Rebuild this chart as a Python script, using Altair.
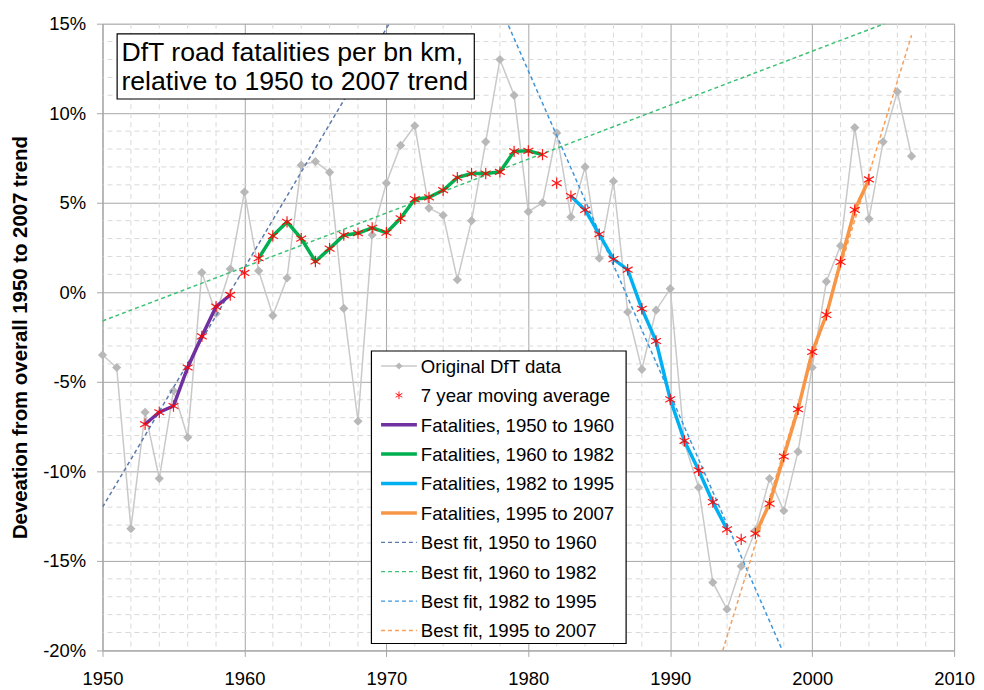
import altair as alt
import pandas as pd

# ---------------- data ----------------
years = list(range(1950, 2008))
original = [-3.5, -4.2, -13.2, -6.7, -10.4, -5.5, -8.1, 1.1, -1.2, 1.3,
            5.6, 1.2, -1.3, 0.8, 7.1, 7.3, 6.7, -0.9, -7.2, 3.2,
            6.1, 8.2, 9.3, 4.7, 4.3, 0.7, 4.0, 8.4, 13.0, 11.0,
            4.5, 5.0, 8.9, 4.2, 7.0, 1.9, 6.2, -1.1, -4.3, -1.0,
            0.2, -8.4, -10.9, -16.2, -17.7, -15.3, -13.3, -10.4, -12.2, -8.9,
            -4.2, 0.6, 2.6, 9.2, 4.1, 8.4, 11.2, 7.6]

ma_years = list(range(1953, 2005))
moving_avg = [-7.37, -6.7, -6.35, -4.2, -2.46, -0.8, -0.15,
              1.08, 1.9, 3.15, 3.93, 3.0, 1.72, 2.44, 3.19, 3.3, 3.6,
              3.33, 4.13, 5.2, 5.3, 5.7, 6.4, 6.63, 6.63, 6.72, 7.87,
              7.9, 7.69, 6.1, 5.37, 4.6, 3.24, 1.85, 1.26, -0.92, -2.72,
              -5.98, -8.3, -9.94, -11.72, -13.24, -13.8, -13.48, -11.8, -9.17, -6.53,
              -3.33, -1.26, 1.7, 4.6, 6.3]

segment_names = ["Fatalities, 1950 to 1960", "Fatalities, 1960 to 1982",
                 "Fatalities, 1982 to 1995", "Fatalities, 1995 to 2007"]
segment_first = [1953, 1961, 1983, 1996]
segment_last = [1959, 1981, 1994, 2004]
segment_colors = ["#7030a0", "#00b050", "#00b0f0", "#f79646"]

fit_names = ["Best fit, 1950 to 1960", "Best fit, 1960 to 1982",
             "Best fit, 1982 to 1995", "Best fit, 1995 to 2007"]
fit_x_start = [1950.0, 1950.0, 1978.6, 1993.7]
fit_y_start = [-12.0, -1.6, 14.9, -20.0]
fit_x_end = [1970.2, 2005.1, 1997.9, 2007.0]
fit_y_end = [15.0, 15.0, -20.0, 14.35]
fit_colors = ["#5b79ab", "#3cc274", "#3d95dc", "#f89e58"]

major_x_ticks = list(range(1950, 2011, 10))
minor_x_ticks = [y for y in range(1952, 2010, 2) if y % 10 != 0]
major_y_ticks = list(range(-20, 16, 5))
minor_y_ticks = [v for v in range(-19, 15) if v % 5 != 0]

title_lines = ["DfT road fatalities per bn km,", "relative to 1950 to 2007 trend"]
y_title = "Deveation from overall 1950 to 2007 trend"
legend_labels = ["Original DfT data", "7 year moving average"] + segment_names + fit_names

# ---------------- tables ----------------
df_orig = pd.DataFrame({"year": years, "value": original})
df_ma = pd.DataFrame({"year": ma_years, "value": moving_avg})
seg_rows = []
for name, a, b in zip(segment_names, segment_first, segment_last):
    for yr, v in zip(ma_years, moving_avg):
        if a <= yr <= b:
            seg_rows.append({"segment": name, "year": yr, "value": v})
df_seg = pd.DataFrame(seg_rows)
fit_rows = []
for name, x0, y0, x1, y1 in zip(fit_names, fit_x_start, fit_y_start, fit_x_end, fit_y_end):
    fit_rows.append({"fit": name, "year": x0, "value": y0})
    fit_rows.append({"fit": name, "year": x1, "value": y1})
df_fit = pd.DataFrame(fit_rows)
df_mx = pd.DataFrame({"year": minor_x_ticks})
df_my = pd.DataFrame({"value": minor_y_ticks})

FONT = "Liberation Sans"
GRID = "#a6a6a6"
MINOR = "#d9d9d9"

xscale = alt.Scale(domain=[1950, 2010], nice=False, zero=False)
yscale = alt.Scale(domain=[-20, 15], nice=False, zero=False)
x_axis = alt.Axis(values=major_x_ticks, format="d", grid=True, gridColor=GRID, gridWidth=1,
                  domainColor=GRID, tickColor=GRID, tickSize=6, labelFontSize=18.5,
                  labelFont=FONT, labelColor="#000000", labelPadding=13, labelFlush=False)
y_axis = alt.Axis(values=major_y_ticks, labelExpr="datum.value + '%'", grid=True, gridColor=GRID,
                  gridWidth=1, domainColor=GRID, tickColor=GRID, tickSize=6, labelFontSize=18.5,
                  labelFont=FONT, labelColor="#000000", labelPadding=11,
                  titleFont=FONT, titleFontSize=20.5, titleFontWeight="bold", titleColor="#000000",
                  titleX=-82, titleY=315, titleAngle=270, titleAlign="center", titleBaseline="middle")


def X(field="year"):
    return alt.X(f"{field}:Q", scale=xscale, axis=x_axis, title=None)


def Y(field="value"):
    return alt.Y(f"{field}:Q", scale=yscale, axis=y_axis, title=y_title)


minor_vx = alt.Chart(df_mx).mark_rule(color=MINOR, strokeDash=[5, 4], strokeWidth=1).encode(x=X())
minor_hy = alt.Chart(df_my).mark_rule(color=MINOR, strokeDash=[5, 4], strokeWidth=1).encode(y=Y())

orig_line = alt.Chart(df_orig).mark_line(color="#c9c9c9", strokeWidth=1.5).encode(x=X(), y=Y())
orig_pts = alt.Chart(df_orig).mark_point(shape="diamond", filled=True, color="#b8b8b8", size=85,
                                         opacity=1).encode(x=X(), y=Y())

fit_lines = alt.Chart(df_fit).mark_line(strokeDash=[4, 3], strokeWidth=1.5, clip=True).encode(
    x=X(), y=Y(),
    color=alt.Color("fit:N", scale=alt.Scale(domain=fit_names, range=fit_colors), legend=None))

seg_lines = alt.Chart(df_seg).mark_line(strokeWidth=3.5).encode(
    x=X(), y=Y(),
    color=alt.Color("segment:N", scale=alt.Scale(domain=segment_names, range=segment_colors), legend=None))

STAR = "M0,-1L0,1M-0.87,-0.5L0.87,0.5M-0.87,0.5L0.87,-0.5"
stars = alt.Chart(df_ma).mark_point(shape=STAR, filled=False, color="#ff0000", size=130,
                                    strokeWidth=1.2, opacity=0.9).encode(x=X(), y=Y())

one = pd.DataFrame({"a": [0]})
title_box = alt.Chart(one).mark_rect(fill="white", stroke="black", strokeWidth=1.2).encode(
    x=alt.value(14.7), x2=alt.value(373.7), y=alt.value(10.3), y2=alt.value(75.7))
title_text = alt.Chart(one).mark_text(align="left", baseline="alphabetic", font=FONT, fontSize=26.8,
                                      lineHeight=29, color="black").encode(
    x=alt.value(19), y=alt.value(37.5), text=alt.value(title_lines))

legend_box = alt.Chart(one).mark_rect(fill="white", stroke="black", strokeWidth=1.2).encode(
    x=alt.value(270.3), x2=alt.value(526.3), y=alt.value(329), y2=alt.value(623))

legend_layers = []
row0 = 344.0
step = 29.55
sx0, sx1, sxc, tx = 280, 316, 298, 320
for i, lab in enumerate(legend_labels):
    yy = row0 + i * step
    if i == 0:
        legend_layers.append(alt.Chart(one).mark_rule(color="#c9c9c9", strokeWidth=1.5).encode(
            x=alt.value(sx0), x2=alt.value(sx1), y=alt.value(yy)))
        legend_layers.append(alt.Chart(one).mark_point(shape="diamond", filled=True, color="#b8b8b8",
                                                       size=50, opacity=1).encode(
            x=alt.value(sxc), y=alt.value(yy)))
    elif i == 1:
        legend_layers.append(alt.Chart(one).mark_point(shape=STAR, filled=False, color="#ff0000",
                                                       size=60, strokeWidth=1, opacity=0.9).encode(
            x=alt.value(sxc), y=alt.value(yy)))
    elif i < 6:
        legend_layers.append(alt.Chart(one).mark_rule(color=segment_colors[i - 2], strokeWidth=3.5).encode(
            x=alt.value(sx0), x2=alt.value(sx1), y=alt.value(yy)))
    else:
        legend_layers.append(alt.Chart(one).mark_rule(color=fit_colors[i - 6], strokeWidth=1.3,
                                                      strokeDash=[4, 3]).encode(
            x=alt.value(sx0), x2=alt.value(sx1), y=alt.value(yy)))
    legend_layers.append(alt.Chart(one).mark_text(align="left", baseline="middle", font=FONT,
                                                  fontSize=18.7, color="black").encode(
        x=alt.value(tx), y=alt.value(yy + 1), text=alt.value(lab)))

chart = alt.layer(
    minor_vx, minor_hy, orig_line, orig_pts, fit_lines, seg_lines, stars,
    title_box, title_text, legend_box, *legend_layers
).resolve_scale(color="independent").properties(
    width=856, height=630,
    autosize=alt.AutoSizeParams(type="none"),
    padding={"left": 95, "top": 14, "right": 22, "bottom": 36},
).configure_view(stroke=None).configure(background="white")

chart.save("out.html", embed_options={"renderer": "svg", "actions": False})
